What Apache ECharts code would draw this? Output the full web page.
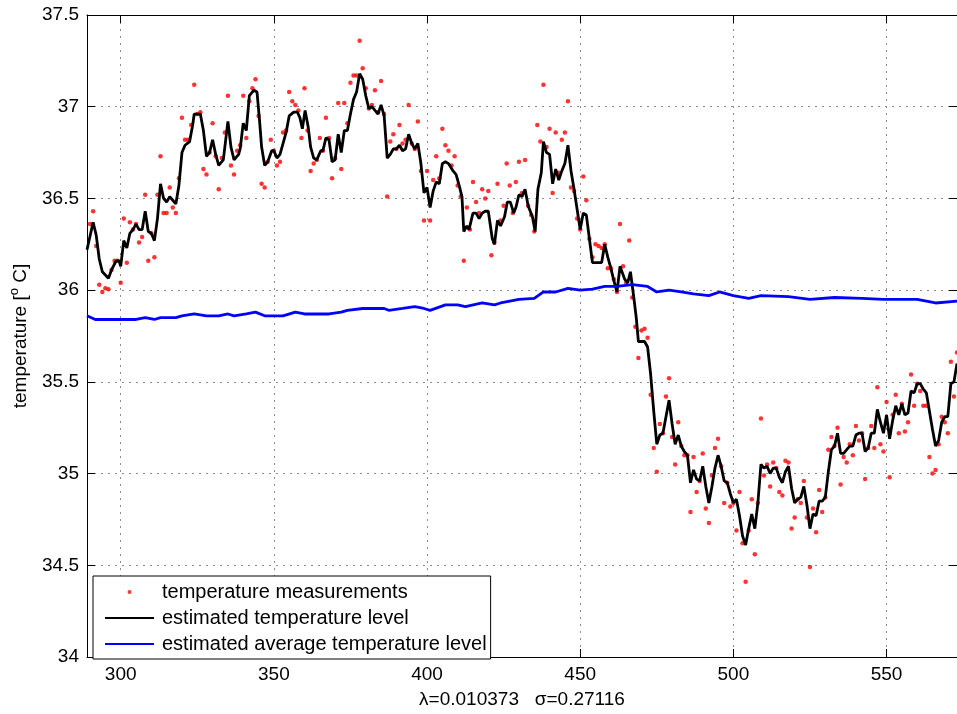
<!DOCTYPE html>
<html>
<head>
<meta charset="utf-8">
<script src="https://cdn.jsdelivr.net/npm/echarts@6/dist/echarts.min.js"></script>
<style>
  html, body { margin: 0; padding: 0; background: #fff; }
  #main { width: 957px; height: 714px; }
</style>
</head>
<body>
<div id="main"></div>
<script>
// measurements, one per sample, starting at x = 290
var measStart = 290;
var measY = [
    36.36, 36.43, 36.24, 36.03, 35.99, 36.01, 36.005, 36.11, 36.16, 36.16,   // 290-299
    36.04, 36.39, 36.15, 36.37, 36.33, 36.36, 36.26, 36.29, 36.52, 36.16,    // 300-309
    36.31, 36.18, 36.52, 36.73, 36.42, 36.42, 36.56, 36.45, 36.42, 36.61,    // 310-319
    36.94, 36.82, 36.82, 36.90, 37.12, 36.96, 36.97, 36.66, 36.63, 36.75,    // 320-329
    36.91, 36.73, 36.55, 36.72, 36.86, 37.06, 36.68, 36.63, 36.76, 36.79,    // 330-339
    37.06, 36.83, 37.03, 37.10, 37.15, 36.95, 36.58, 36.56, 36.70, 36.82,    // 340-349
    36.76, 36.68, 36.70, 36.86, 36.87, 37.08, 37.03, 37.01, 36.98, 36.83,    // 350-359
    37.10, 36.87, 36.65, 36.69, 36.71, 36.83, 36.76, 36.94, 36.83, 36.61,    // 360-369
    36.72, 37.02, 36.66, 37.02, 36.91, 37.13, 37.17, 37.17, 37.36, 37.21,    // 370-379
    37.10, 36.99, 37.01, 37.09, 36.97, 37.14, 36.96, 36.51, 36.81, 36.85,    // 380-389
    36.77, 36.90, 36.80, 36.82, 37.01, 36.80, 36.77, 36.92, 36.65, 36.38,    // 390-399
    36.65, 36.38, 36.60, 36.73, 36.61, 36.88, 36.79, 36.76, 36.68, 36.73,    // 400-409
    36.57, 36.51, 36.16, 36.45, 36.33, 36.59, 36.48, 36.42, 36.55, 36.50,    // 410-419
    36.54, 36.19, 36.26, 36.58, 36.38, 36.46, 36.69, 36.57, 36.42, 36.59,    // 420-429
    36.70, 36.53, 36.71, 36.46, 36.41, 36.32, 36.90, 36.81, 37.12, 36.78,    // 430-439
    36.88, 36.53, 36.86, 36.64, 36.82, 36.86, 37.03, 36.56, 36.54, 36.39,    // 440-449
    36.33, 36.62, 36.49, 36.28, 36.18, 36.25, 36.24, 36.23, 36.25, 36.12,    // 450-459
    36.12, 36.06, 35.99, 36.36, 36.13, 36.04, 36.27, 35.96, 35.80, 35.63,    // 460-469
    35.78, 35.79, 35.74, 35.43, 35.14, 35.01, 35.27, 35.22, 35.42, 35.52,    // 470-479
    35.20, 35.05, 35.28, 35.15, 35.10, 35.10, 34.79, 35.09, 34.90, 34.96,    // 480-489
    35.11, 34.81, 34.73, 34.99, 35.14, 35.19, 35.04, 34.84, 34.95, 34.82,    // 490-499
    34.84, 34.69, 34.90, 34.62, 34.41, 34.69, 34.86, 34.56, 34.84, 35.30,    // 500-509
    34.99, 35.05, 34.93, 35.06, 35.03, 34.90, 34.88, 35.07, 35.06, 34.70,    // 510-519
    34.76, 34.86, 34.84, 34.96, 34.76, 34.49, 34.81, 34.68, 34.91, 34.79,    // 520-529
    34.87, 35.13, 35.20, 35.15, 35.25, 34.94, 35.09, 35.06, 35.16, 35.10,    // 530-539
    35.26, 35.18, 35.22, 34.97, 35.14, 35.26, 35.14, 35.47, 35.16, 35.12,    // 540-549
    35.39, 34.98, 35.32, 35.43, 35.22, 35.38, 35.23, 35.28, 35.54, 35.37,    // 550-559
    35.49, 35.45, 35.37, 35.37, 35.09, 35.00, 35.02, 35.16, 35.31, 35.28,    // 560-569
    35.22, 35.61, 35.42, 35.66                                               // 570-573
];

// estimated temperature level
var levelX = [289, 291, 292, 293, 294, 296, 297, 298.5, 299.5, 300, 301, 302, 303, 304, 305, 306, 307, 308, 309, 310,
    311, 312, 313, 314, 315, 316, 317, 318, 319, 320, 321, 322.5, 323.5, 324, 326, 327, 328, 329, 330, 331,
    332, 333.5, 335, 336, 337, 338.5, 339, 340, 341, 342, 343.5, 344.5, 345.3, 346, 347, 348, 349.3, 350, 351, 352,
    353, 354, 355, 356.5, 357.7, 358.5, 359.3, 360.2, 361.2, 362, 363, 364, 365.3, 366, 367, 368, 369, 370, 371, 372,
    373, 374, 375, 376, 377, 378, 379, 380, 381, 382, 383, 384, 385, 386, 387, 388, 389, 390, 391, 392,
    393, 394, 395, 396, 397, 398, 399, 400, 401, 402, 403, 404, 405, 406, 407, 408.5, 409.5, 410.5, 411.4, 412,
    413, 413.7, 415, 416, 417, 418, 419, 420, 421.3, 422, 423, 424, 425.3, 426.2, 427.2, 428.3, 429, 430, 431, 432,
    433, 434.4, 435.3, 436.2, 437.3, 438, 439, 440, 441, 442, 443, 444, 445, 446, 447, 448, 449, 450, 451, 452,
    453, 454, 457, 458, 459, 460, 461, 462, 463, 464.5, 465.5, 466.4, 467.5, 468.3, 469, 471, 472, 473, 474, 475,
    476, 477, 478, 479, 480, 481, 482, 483, 484, 485, 486, 487, 488, 489, 490, 491, 492, 493, 494, 495,
    496, 497, 498, 499, 500, 501, 502, 503, 504, 505, 506, 507, 508, 509, 510, 511, 512, 513, 514, 515,
    516, 517, 518, 519, 520, 521, 522, 523, 524, 525, 526, 527, 528, 529, 530, 531, 532, 533, 534, 535,
    536, 537, 538, 539, 540, 541, 542, 543, 544, 545, 546, 547, 548, 549, 550, 551, 552, 553, 554, 555,
    556, 557, 558, 559, 560, 561, 562, 563, 564, 565, 566, 567, 568, 569, 570, 571, 572, 573];
var levelY = [36.22, 36.37, 36.30, 36.17, 36.10, 36.065, 36.11, 36.16, 36.16, 36.13, 36.27, 36.23, 36.31, 36.33, 36.36, 36.33, 36.33, 36.43, 36.32, 36.31,
    36.27, 36.39, 36.58, 36.50, 36.48, 36.51, 36.49, 36.47, 36.57, 36.75, 36.79, 36.81, 36.90, 36.96, 36.96, 36.87, 36.73, 36.75, 36.82, 36.74,
    36.68, 36.71, 36.92, 36.78, 36.71, 36.74, 36.77, 36.91, 36.87, 37.06, 37.09, 37.08, 36.93, 36.78, 36.68, 36.70, 36.76, 36.76, 36.72, 36.74,
    36.80, 36.86, 36.95, 36.97, 36.97, 36.94, 36.88, 36.98, 36.89, 36.78, 36.72, 36.71, 36.76, 36.76, 36.83, 36.82, 36.70, 36.71, 36.85, 36.75,
    36.87, 36.87, 36.96, 37.04, 37.08, 37.18, 37.15, 37.06, 36.99, 37.00, 36.98, 36.96, 37.01, 36.95, 36.72, 36.74, 36.77, 36.77, 36.79, 36.76,
    36.77, 36.85, 36.80, 36.77, 36.80, 36.69, 36.53, 36.56, 36.45, 36.54, 36.59, 36.58, 36.69, 36.70, 36.69, 36.65, 36.63, 36.57, 36.51, 36.32,
    36.35, 36.33, 36.42, 36.42, 36.39, 36.42, 36.43, 36.43, 36.28, 36.25, 36.38, 36.35, 36.40, 36.48, 36.48, 36.42, 36.45, 36.52, 36.51, 36.55,
    36.46, 36.40, 36.32, 36.55, 36.64, 36.81, 36.75, 36.74, 36.58, 36.66, 36.60, 36.65, 36.69, 36.79, 36.65, 36.55, 36.44, 36.33, 36.42, 36.41,
    36.28, 36.15, 36.15, 36.25, 36.18, 36.12, 36.05, 35.99, 36.13, 36.06, 36.04, 36.10, 35.96, 35.85, 35.72, 35.72, 35.69, 35.54, 35.34, 35.16,
    35.21, 35.22, 35.31, 35.40, 35.27, 35.16, 35.21, 35.15, 35.12, 35.10, 34.95, 35.02, 34.97, 34.96, 35.04, 34.93, 34.84, 34.93, 35.03, 35.10,
    35.04, 34.96, 34.95, 34.89, 34.84, 34.86, 34.77, 34.66, 34.61, 34.70, 34.78, 34.70, 34.84, 35.05, 35.03, 35.04, 35.00, 35.03, 35.03, 34.98,
    34.95, 35.01, 35.04, 34.92, 34.84, 34.86, 34.87, 34.93, 34.83, 34.70, 34.78, 34.77, 34.85, 34.85, 34.87, 35.01, 35.13, 35.15, 35.22, 35.11,
    35.11, 35.13, 35.15, 35.15, 35.21, 35.22, 35.22, 35.12, 35.14, 35.22, 35.22, 35.35, 35.28, 35.22, 35.32, 35.19, 35.29, 35.37, 35.32, 35.38,
    35.32, 35.33, 35.45, 35.44, 35.49, 35.49, 35.46, 35.44, 35.34, 35.24, 35.15, 35.18, 35.28, 35.31, 35.31, 35.49, 35.50, 35.60];

// estimated average temperature level
var avgX = [289, 291.7, 295, 300, 305, 308, 311, 313, 318, 320, 324, 328, 332, 335, 337, 341, 344, 347, 353, 357,
    360, 364, 368, 372, 374, 379, 383, 386, 387.5, 392, 396, 399, 401, 406, 410, 412.5, 418, 422, 424, 427,
    430, 435, 438, 442, 446, 450, 454, 458, 462, 467, 472, 475, 479, 483, 487, 492, 495.5, 500, 505, 509,
    518, 525, 533, 542, 549, 560, 566, 573];
var avgY = [35.86, 35.84, 35.84, 35.84, 35.84, 35.85, 35.84, 35.85, 35.85, 35.86, 35.87, 35.86, 35.86, 35.87, 35.86, 35.87, 35.88, 35.86, 35.86, 35.88,
    35.87, 35.87, 35.87, 35.88, 35.89, 35.90, 35.90, 35.90, 35.89, 35.90, 35.91, 35.90, 35.89, 35.92, 35.92, 35.91, 35.93, 35.92, 35.93, 35.94,
    35.95, 35.955, 35.99, 35.99, 36.01, 36.00, 36.005, 36.02, 36.02, 36.03, 36.02, 35.99, 36.00, 35.99, 35.98, 35.97, 35.99, 35.97, 35.955, 35.97,
    35.965, 35.95, 35.96, 35.955, 35.95, 35.95, 35.93, 35.94];

var yTicks = [34, 34.5, 35, 35.5, 36, 36.5, 37, 37.5];
var seriesNames = ['temperature measurements', 'estimated temperature level', 'estimated average temperature level'];

var font = "'Liberation Sans', Arial, sans-serif";

function pairs(xs, ys) {
    return xs.map(function (x, i) { return [x, ys[i]]; });
}
var measData = measY.map(function (y, i) { return [measStart + i, y]; });

var chart = echarts.init(document.getElementById('main'));

var gridLine = { show: true, lineStyle: { color: '#8c8c8c', width: 1, type: [2, 5] } };
var tick = { show: true, inside: true, length: 8, lineStyle: { color: '#000' } };
var axisLine = { show: true, onZero: false, lineStyle: { color: '#000', width: 1 } };

chart.setOption({
    animation: false,
    backgroundColor: '#fff',
    textStyle: { fontFamily: font },
    grid: { left: 85, right: 0, top: 15, bottom: 50 },
    legend: {
        // hide the little dot the line icons get, keep the line
        data: [
            { name: seriesNames[0] },
            { name: seriesNames[1], itemStyle: { opacity: 0 } },
            { name: seriesNames[2], itemStyle: { opacity: 0 } }
        ],
        orient: 'vertical',
        left: 93,
        top: 576,
        padding: [6, 4, 5, 11],
        itemWidth: 49,
        itemHeight: 4,
        itemGap: 6,
        backgroundColor: '#fff',
        borderColor: '#000',
        borderWidth: 1,
        borderRadius: 0,
        textStyle: { fontSize: 20, color: '#000', fontFamily: font, padding: [0, 0, 0, 3] }
    },
    xAxis: [{
        type: 'value',
        min: 289,
        max: 573,
        splitNumber: 5,
        name: 'λ=0.010373   σ=0.27116',
        nameLocation: 'middle',
        nameGap: 33,
        nameTextStyle: { fontSize: 19, color: '#000', fontFamily: font },
        axisLine: axisLine,
        axisTick: tick,
        axisLabel: { fontSize: 19, color: '#000', margin: 8, showMinLabel: false, showMaxLabel: false },
        splitLine: gridLine
    }, {
        type: 'value',
        position: 'top',
        min: 289,
        max: 573,
        splitNumber: 5,
        axisLine: axisLine,
        axisTick: tick,
        axisLabel: { show: false },
        splitLine: { show: false }
    }],
    yAxis: [{
        type: 'value',
        min: yTicks[0],
        max: yTicks[yTicks.length - 1],
        interval: 0.5,
        name: 'temperature [{sup|o} C]',
        nameLocation: 'middle',
        nameGap: 54,
        nameRotate: 90,
        nameTextStyle: {
            fontSize: 19, color: '#000', fontFamily: font,
            rich: { sup: { fontSize: 13, fontFamily: font, color: '#000', verticalAlign: 'top', padding: [0, 0, 12, 0] } }
        },
        axisLine: axisLine,
        axisTick: tick,
        axisLabel: { fontSize: 19, color: '#000', margin: 8 },
        splitLine: gridLine
    }, {
        type: 'value',
        position: 'right',
        min: yTicks[0],
        max: yTicks[yTicks.length - 1],
        interval: 0.5,
        axisLine: axisLine,
        axisTick: tick,
        axisLabel: { show: false },
        splitLine: { show: false }
    }],
    series: [{
        name: seriesNames[0],
        type: 'scatter',
        data: measData,
        symbol: 'circle',
        symbolSize: 4.5,
        itemStyle: { color: '#ff0000' },
        silent: true
    }, {
        name: seriesNames[1],
        type: 'line',
        data: pairs(levelX, levelY),
        showSymbol: false,
        symbol: 'none',
        lineStyle: { color: '#000', width: 2.8 },
        itemStyle: { color: '#000' },
        silent: true
    }, {
        name: seriesNames[2],
        type: 'line',
        data: pairs(avgX, avgY),
        showSymbol: false,
        symbol: 'none',
        lineStyle: { color: '#0000ff', width: 2.8 },
        itemStyle: { color: '#0000ff' },
        silent: true
    }]
});
</script>
</body>
</html>
